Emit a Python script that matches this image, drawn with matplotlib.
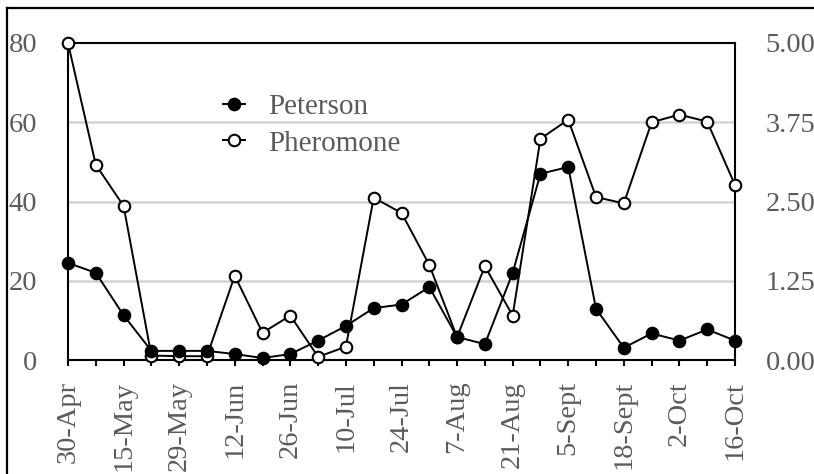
import matplotlib
matplotlib.use("Agg")
import matplotlib.pyplot as plt
from matplotlib.lines import Line2D
import numpy as np

# ---- data ----
dates = ["30-Apr", "7-May", "15-May", "22-May", "29-May", "5-Jun", "12-Jun", "19-Jun",
         "26-Jun", "3-Jul", "10-Jul", "17-Jul", "24-Jul", "31-Jul", "7-Aug", "14-Aug",
         "21-Aug", "28-Aug", "5-Sept", "11-Sept", "18-Sept", "25-Sept", "2-Oct", "9-Oct",
         "16-Oct"]
labeled_dates = ["30-Apr", "15-May", "29-May", "12-Jun", "26-Jun", "10-Jul", "24-Jul",
                 "7-Aug", "21-Aug", "5-Sept", "18-Sept", "2-Oct", "16-Oct"]
peterson = [24.5, 22.0, 11.3, 2.3, 2.3, 2.3, 1.5, 0.5, 1.5, 4.9, 8.6, 13.1, 14.0, 18.4,
            5.8, 4.0, 22.0, 47.0, 48.7, 12.9, 3.1, 6.7, 4.9, 7.7, 4.9]
pheromone = [5.00, 3.08, 2.43, 0.07, 0.06, 0.06, 1.33, 0.43, 0.70, 0.05, 0.21, 2.56,
             2.32, 1.50, 0.36, 1.48, 0.70, 3.49, 3.79, 2.57, 2.47, 3.75, 3.87, 3.76, 2.76]
left_ticks = [0, 20, 40, 60, 80]
right_ticks = [0.0, 1.25, 2.5, 3.75, 5.0]

plt.rcParams['font.family'] = ['Liberation Serif', 'DejaVu Serif']
gray = "#5b5b5b"
W, H = 814, 474
fig = plt.figure(figsize=(W / 100, H / 100), dpi=100)
fig.patch.set_facecolor("white")

rect = [68 / W, 1 - 360 / H, (735 - 68) / W, (360 - 43) / H]
ax2 = fig.add_axes(rect)          # pheromone, behind
ax = fig.add_axes(rect, sharex=ax2)  # peterson, on top
ax.set_zorder(2)
ax2.set_zorder(1)
ax.patch.set_visible(False)

x = np.arange(len(dates))
lw = 1.4
ms = 8.3
mew = 1.5

hph, = ax2.plot(x, pheromone, color="black", lw=lw, marker="o", ms=ms,
                mfc="white", mec="black", mew=mew, clip_on=False, zorder=3,
                label="Pheromone")
hpe, = ax.plot(x, peterson, color="black", lw=lw, marker="o", ms=ms,
               mfc="black", mec="black", mew=mew, clip_on=False, zorder=3,
               label="Peterson")

ax.set_xlim(0, len(dates) - 1)
ax.set_ylim(0, 80)
ax2.set_ylim(0, 5)

# grid on back axis
for v in right_ticks[1:-1]:
    ax2.axhline(v, color="#d4d4d4", lw=1.8, zorder=1)

# left axis
ax.yaxis.tick_left()
ax.set_yticks(left_ticks)
ax.set_yticklabels([str(v) for v in left_ticks])
ax.tick_params(axis="y", length=0, pad=22, labelsize=20.5, labelcolor=gray)

# right axis
ax2.yaxis.tick_right()
ax2.set_yticks(right_ticks)
ax2.set_yticklabels([f"{v:.2f}" for v in right_ticks])
ax2.tick_params(axis="y", length=0, pad=22, labelsize=20.5, labelcolor=gray)

# x axis ticks
ax2.set_xticks(x)
lab = []
j = 0
for i in range(len(dates)):
    if i % 2 == 0:
        lab.append(labeled_dates[j]); j += 1
    else:
        lab.append("")
ax2.set_xticklabels(lab, rotation=90)
ax2.tick_params(axis="x", direction="out", length=4, width=1.5, pad=11,
                labelsize=20.5, labelcolor=gray)
ax.tick_params(axis="x", which="both", bottom=False, labelbottom=False)

for a in (ax, ax2):
    for s in a.spines.values():
        s.set_linewidth(1.5)
        s.set_color("black")
ax.spines[:].set_visible(False)

leg = ax.legend(handles=[hpe, hph], loc="center left",
                bbox_to_anchor=(223 / W, 1 - 125 / H), bbox_transform=fig.transFigure,
                frameon=False, fontsize=21, handlelength=0.75, handletextpad=0.8,
                labelspacing=0.35, borderpad=0, borderaxespad=0)
for t in leg.get_texts():
    t.set_color(gray)

# outer figure border (left and top edges visible)
fig.add_artist(Line2D([7 / W, 7 / W], [-0.05, 1 - 8 / H], transform=fig.transFigure,
                      color="black", lw=1.6))
fig.add_artist(Line2D([7 / W, 1.05], [1 - 8 / H, 1 - 8 / H], transform=fig.transFigure,
                      color="black", lw=1.6))

fig.savefig("out.png", dpi=100)
